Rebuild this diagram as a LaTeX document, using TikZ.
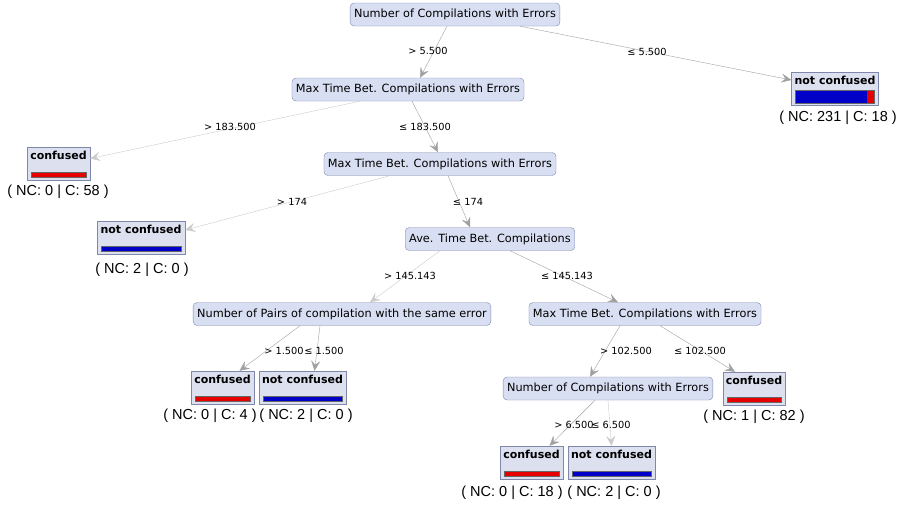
\documentclass[tikz,border=0pt]{standalone}
\usepackage{fontspec}
\setmainfont{DejaVu Sans}
\newfontfamily\countfont{Liberation Sans}
\usetikzlibrary{arrows.meta, calc, positioning}

\definecolor{splitfill}{HTML}{D9DFF3}
\definecolor{splitline}{HTML}{7F88AA}
\definecolor{leaffill}{HTML}{DCE0EF}
\definecolor{barred}{HTML}{E60000}
\definecolor{barblue}{HTML}{0000C8}
\definecolor{edgegray}{HTML}{A0A0A0}

\tikzset{
  split/.style={draw=splitline, fill=splitfill, rounded corners=4pt,
    font=\fontsize{11.3}{13}\selectfont, minimum height=23pt, inner xsep=4pt},
  leaf/.style={draw=splitline, fill=leaffill, font=\fontsize{11}{13}\selectfont\bfseries,
    minimum height=33pt, text height=10pt, text depth=19pt, inner xsep=3pt, inner ysep=2pt,
    path picture={\draw[fill=#1, draw=black!60]
      ([shift={(4pt,3pt)}]path picture bounding box.south west) rectangle
      ([shift={(-4pt,8pt)}]path picture bounding box.south east);}},
  count/.style={font=\countfont\fontsize{14.5}{16}\selectfont},
  cond/.style={font=\fontsize{9.8}{11}\selectfont, inner sep=1pt},
  edge/.style={draw=edgegray, -{Stealth[length=10pt, width=9pt, inset=4pt]}},
  faint/.style={draw=edgegray!55},
}

\begin{document}
\begin{tikzpicture}[x=1pt, y=-1pt]
  \useasboundingbox (0,0) rectangle (903,507);

  % Split nodes
  \node[split] (root) at (455,14.5) {Number of Compilations with Errors};
  \node[split] (maxA) at (408,89.5) {Max Time Bet. Compilations with Errors};
  \node[split] (maxB) at (440,164) {Max Time Bet. Compilations with Errors};
  \node[split] (ave) at (490,239) {Ave. Time Bet. Compilations};
  \node[split] (pairs) at (342,314) {Number of Pairs of compilation with the same error};
  \node[split] (maxC) at (645,314) {Max Time Bet. Compilations with Errors};
  \node[split] (numB) at (608,388.5) {Number of Compilations with Errors};

  % Leaves
  \node[leaf=barblue, minimum width=84pt, path picture={
      \fill[barblue] ([shift={(4pt,2pt)}]path picture bounding box.south west) rectangle
        ([shift={(-11pt,15pt)}]path picture bounding box.south east);
      \fill[barred] ([shift={(-11pt,2pt)}]path picture bounding box.south east) rectangle
        ([shift={(-4pt,15pt)}]path picture bounding box.south east);
      \draw[draw=black!60]
        ([shift={(4pt,2pt)}]path picture bounding box.south west) rectangle
        ([shift={(-4pt,15pt)}]path picture bounding box.south east);}]
    (leafR) at (835,89) {not confused};
  \node[leaf=barred, minimum width=63pt] (leafA) at (58.5,163.5) {confused};
  \node[leaf=barblue, minimum width=88pt] (leafB) at (141,238) {not confused};
  \node[leaf=barred, minimum width=63pt] (leafC) at (222.5,387.5) {confused};
  \node[leaf=barblue, minimum width=87pt] (leafD) at (302.5,387.5) {not confused};
  \node[leaf=barred, minimum width=62pt] (leafE) at (754,388.5) {confused};
  \node[leaf=barred, minimum width=63pt] (leafF) at (531.5,462.5) {confused};
  \node[leaf=barblue, minimum width=87pt] (leafG) at (611.5,462.5) {not confused};

  % Class counts
  \node[count] (cntR) at (838,118) {( NC: 231 | C: 18 )};
  \node[count] (cntA) at (58,192) {( NC: 0 | C: 58 )};
  \node[count] (cntB) at (142,270) {( NC: 2 | C: 0 )};
  \node[count] (cntC) at (210,416) {( NC: 0 | C: 4 )};
  \node[count] (cntD) at (306,416) {( NC: 2 | C: 0 )};
  \node[count] (cntE) at (754,417) {( NC: 1 | C: 82 )};
  \node[count] (cntF) at (512,493) {( NC: 0 | C: 18 )};
  \node[count] (cntG) at (614,493) {( NC: 2 | C: 0 )};

  % Edges
  \draw[edge] ([xshift=-8pt]root.south) -- ([xshift=12pt]maxA.north);
  \draw[edge] ([xshift=65pt]root.south) -- ([yshift=9pt]leafR.west);
  \draw[edge, faint] ([xshift=-48pt]maxA.south) -- ([yshift=5pt]leafA.east);
  \draw[edge] ([xshift=4pt]maxA.south) -- ([xshift=-2pt]maxB.north);
  \draw[edge, faint] ([xshift=-50pt]maxB.south) -- ([yshift=8pt]leafB.east);
  \draw[edge] ([xshift=8pt]maxB.south) -- ([xshift=-20pt]ave.north);
  \draw[edge, faint] ([xshift=-50pt]ave.south) -- ([xshift=28pt]pairs.north);
  \draw[edge] ([xshift=20pt]ave.south) -- ([xshift=-27pt]maxC.north);
  \draw[edge] ([xshift=-42pt]pairs.south) -- ([xshift=17pt]leafC.north);
  \draw[edge] ([xshift=-22pt]pairs.south) -- ([xshift=12pt]leafD.north);
  \draw[edge] ([xshift=-25pt]maxC.south) -- ([xshift=-18pt]numB.north);
  \draw[edge] ([xshift=15pt]maxC.south) -- ([xshift=-19pt]leafE.north);
  \draw[edge] ([xshift=-13pt]numB.south) -- ([xshift=18pt]leafF.north);
  \draw[edge, faint] (numB.south) -- ([xshift=0pt]leafG.north);

  % Conditions
  \node[cond] (gtA) at (428,51) {> 5.500};
  \node[cond] (leA) at (647,52) {≤ 5.500};
  \node[cond] (gtB) at (230,127) {> 183.500};
  \node[cond] (leB) at (425,127) {≤ 183.500};
  \node[cond] (gtC) at (292,202) {> 174};
  \node[cond] (leC) at (468,202) {≤ 174};
  \node[cond] (gtD) at (410,276) {> 145.143};
  \node[cond] (leD) at (567,276) {≤ 145.143};
  \node[cond] (gtE) at (284,351) {> 1.500};
  \node[cond] (leE) at (324,351) {≤ 1.500};
  \node[cond] (gtF) at (626,351) {> 102.500};
  \node[cond] (leF) at (700,351) {≤ 102.500};
  \node[cond] (gtG) at (574,425) {> 6.500};
  \node[cond] (leG) at (611,425) {≤ 6.500};
\end{tikzpicture}
\end{document}
